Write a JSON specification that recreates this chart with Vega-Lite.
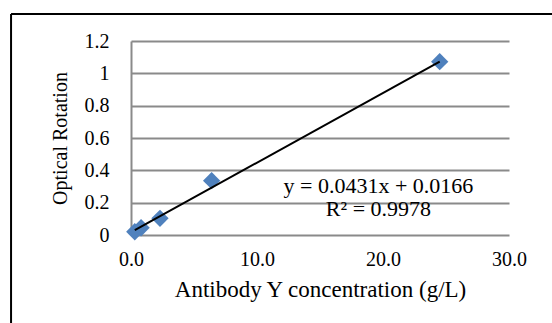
{
  "$schema": "https://vega.github.io/schema/vega-lite/v6.json",
  "autosize": {"type": "none"},
  "width": 378,
  "height": 194,
  "padding": {"left": 131, "top": 41, "right": 43, "bottom": 88},
  "background": "white",
  "config": {
    "view": {"stroke": null},
    "font": "Liberation Serif",
    "axis": {"labelFont": "Liberation Serif", "titleFont": "Liberation Serif", "labelColor": "#000", "titleColor": "#000", "titleFontWeight": "normal", "labelFlush": false, "labelOverlap": false},
    "axisX": {"grid": false, "domain": false, "ticks": false, "labelFontSize": 20, "labelPadding": 14, "titleFontSize": 23, "titlePadding": 9},
    "axisY": {"grid": true, "gridColor": "#8a8a8a", "gridWidth": 2, "gridOpacity": 1, "domain": true, "domainColor": "#8a8a8a", "domainWidth": 2, "ticks": false, "labelFontSize": 20, "labelPadding": 22, "titleFontSize": 20, "titlePadding": 14}
  },
  "datasets": {
    "points": [
      {"conc": 0.3, "rot": 0.02},
      {"conc": 0.8, "rot": 0.045},
      {"conc": 2.3, "rot": 0.103},
      {"conc": 6.4, "rot": 0.336},
      {"conc": 24.5, "rot": 1.072}
    ],
    "trend": [
      {"conc": 0.3, "rot": 0.0295},
      {"conc": 24.5, "rot": 1.0726}
    ],
    "one": [{}]
  },
  "layer": [
    {
      "data": {"name": "points"},
      "mark": {"type": "point", "shape": "diamond", "filled": true, "color": "#4F81BD", "opacity": 1, "size": 300},
      "encoding": {
        "x": {
          "field": "conc", "type": "quantitative",
          "scale": {"domain": [0, 30], "nice": false, "zero": false},
          "axis": {"values": [0, 10, 20, 30], "format": ".1f", "title": "Antibody Y concentration (g/L)"}
        },
        "y": {
          "field": "rot", "type": "quantitative",
          "scale": {"domain": [0, 1.2], "nice": false, "zero": false},
          "axis": {"values": [0, 0.2, 0.4, 0.6, 0.8, 1, 1.2], "format": ".1~f", "title": "Optical Rotation"}
        }
      }
    },
    {
      "data": {"name": "trend"},
      "mark": {"type": "line", "color": "black", "strokeWidth": 2},
      "encoding": {
        "x": {"field": "conc", "type": "quantitative",
              "axis": {"values": [0, 10, 20, 30], "format": ".1f", "title": "Antibody Y concentration (g/L)"}},
        "y": {"field": "rot", "type": "quantitative",
              "axis": {"values": [0, 0.2, 0.4, 0.6, 0.8, 1, 1.2], "format": ".1~f", "title": "Optical Rotation"}}
      }
    },
    {
      "data": {"name": "one"},
      "mark": {"type": "text", "text": ["y = 0.0431x + 0.0166", "R² = 0.9978"], "align": "center", "baseline": "alphabetic", "fontSize": 22, "lineHeight": 23, "font": "Liberation Serif", "color": "black"},
      "encoding": {
        "x": {"datum": 19.64, "type": "quantitative",
              "axis": {"values": [0, 10, 20, 30], "format": ".1f", "title": "Antibody Y concentration (g/L)"}},
        "y": {"datum": 0.26, "type": "quantitative",
              "axis": {"values": [0, 0.2, 0.4, 0.6, 0.8, 1, 1.2], "format": ".1~f", "title": "Optical Rotation"}}
      }
    },
    {
      "data": {"name": "one"},
      "mark": {"type": "rule", "color": "black", "strokeWidth": 2},
      "encoding": {
        "x": {"datum": -9.52, "type": "quantitative",
              "axis": {"values": [0, 10, 20, 30], "format": ".1f", "title": "Antibody Y concentration (g/L)"}},
        "x2": {"datum": 36},
        "y": {"datum": 1.367, "type": "quantitative",
              "axis": {"values": [0, 0.2, 0.4, 0.6, 0.8, 1, 1.2], "format": ".1~f", "title": "Optical Rotation"}}
      }
    },
    {
      "data": {"name": "one"},
      "mark": {"type": "rule", "color": "black", "strokeWidth": 2},
      "encoding": {
        "x": {"datum": -9.52, "type": "quantitative",
              "axis": {"values": [0, 10, 20, 30], "format": ".1f", "title": "Antibody Y concentration (g/L)"}},
        "y": {"datum": 1.367, "type": "quantitative",
              "axis": {"values": [0, 0.2, 0.4, 0.6, 0.8, 1, 1.2], "format": ".1~f", "title": "Optical Rotation"}},
        "y2": {"datum": -0.7}
      }
    }
  ]
}
